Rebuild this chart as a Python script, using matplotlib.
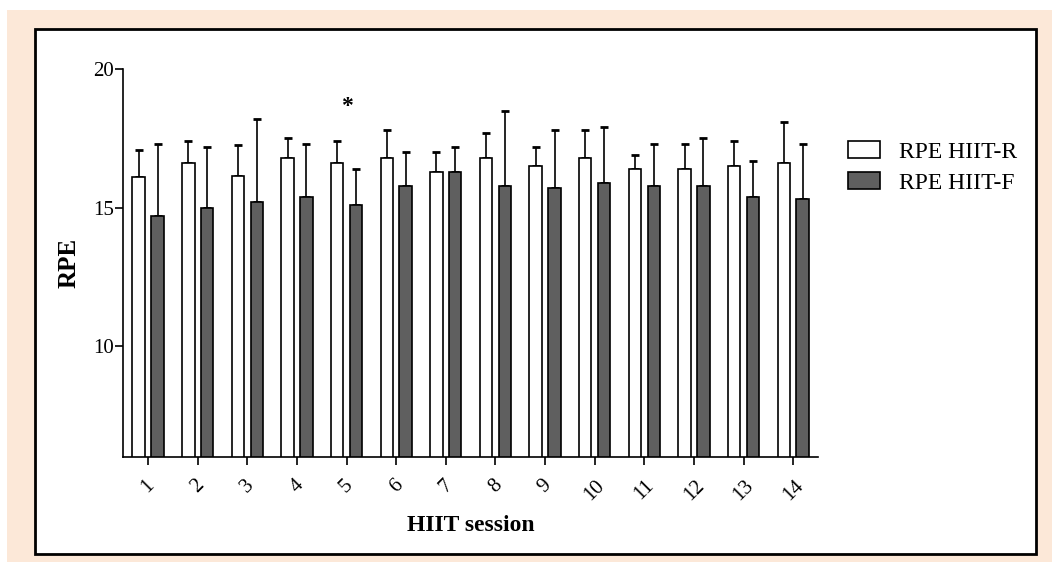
import numpy as np
import matplotlib.pyplot as plt
from matplotlib.patches import Rectangle

plt.rcParams['font.family'] = ['Liberation Serif', 'DejaVu Serif']

# data
sessions = np.arange(1, 15)
rpe_r = [16.1, 16.6, 16.15, 16.8, 16.6, 16.8, 16.3, 16.8, 16.5, 16.8, 16.4, 16.4, 16.5, 16.6]
rpe_r_sd = [1.0, 0.8, 1.1, 0.7, 0.8, 1.0, 0.7, 0.9, 0.7, 1.0, 0.5, 0.9, 0.9, 1.5]
rpe_f = [14.7, 15.0, 15.2, 15.4, 15.1, 15.8, 16.3, 15.8, 15.7, 15.9, 15.8, 15.8, 15.4, 15.3]
rpe_f_sd = [2.6, 2.2, 3.0, 1.9, 1.3, 1.2, 0.9, 2.7, 2.1, 2.0, 1.5, 1.7, 1.3, 2.0]
sig_session = 5
sig_y = 18.65

fig = plt.figure(figsize=(10.52, 5.62), dpi=100)
# peach frame + white box with border
fig.patches.append(Rectangle((7 / 1052, 0), 1 - 7 / 1052, 1 - 10 / 562,
                             transform=fig.transFigure, facecolor='#fce8d8',
                             edgecolor='none', zorder=-3))
fig.patches.append(Rectangle((35 / 1052, 1 - 554 / 562), (1036 - 35) / 1052, (554 - 29) / 562,
                             transform=fig.transFigure, facecolor='white',
                             edgecolor='black', linewidth=2, zorder=-2))

ax = fig.add_axes([123.3 / 1052, 1 - 456.7 / 562, (818 - 123.3) / 1052, (456.7 - 69.3) / 562])
ax.set_facecolor('none')

w = 0.25
off = 0.19
ax.bar(sessions - off, rpe_r, w, color='white', edgecolor='black', linewidth=1.2,
       label='RPE HIIT-R', zorder=2)
ax.bar(sessions + off, rpe_f, w, color='#5f5f5f', edgecolor='black', linewidth=1.2,
       label='RPE HIIT-F', zorder=2)
ax.errorbar(sessions - off, rpe_r, yerr=[np.zeros(14), rpe_r_sd], fmt='none',
            ecolor='black', elinewidth=1.2, capsize=2.8, capthick=2, zorder=1)
ax.errorbar(sessions + off, rpe_f, yerr=[np.zeros(14), rpe_f_sd], fmt='none',
            ecolor='black', elinewidth=1.2, capsize=2.8, capthick=2, zorder=1)

ax.text(sig_session, sig_y, '*', ha='center', va='center', fontsize=17, fontweight='bold')

ax.set_ylim(6, 20)
ax.set_xlim(0.5, 14.5)
ax.set_yticks([10, 15, 20])
ax.set_xticks(sessions)
ax.set_xticklabels([str(s) for s in sessions], rotation=45, fontsize=15)
ax.tick_params(axis='y', labelsize=15, length=6, width=1.2, pad=1)
ax.tick_params(axis='x', length=6, width=1.2, pad=8)
for s in ['top', 'right']:
    ax.spines[s].set_visible(False)
for s in ['left', 'bottom']:
    ax.spines[s].set_linewidth(1.2)

ax.set_xlabel('HIIT session', fontsize=17, fontweight='bold', labelpad=8)
ax.set_ylabel('RPE', fontsize=18, fontweight='bold', labelpad=9)

ax.legend(loc='upper left', bbox_to_anchor=(827 / 1052, 1 - 120 / 562),
          bbox_transform=fig.transFigure, frameon=False, fontsize=17,
          handlelength=1.35, handleheight=0.7, labelspacing=0.4, handletextpad=0.8)

plt.savefig('out.png', dpi=100)
